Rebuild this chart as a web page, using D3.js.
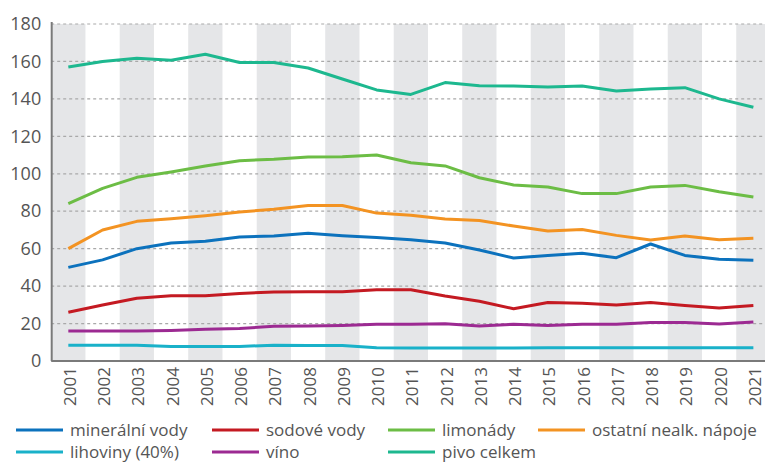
<!DOCTYPE html>
<html><head><meta charset="utf-8">
<script src="https://cdn.jsdelivr.net/npm/d3@7"></script>
<style>body{margin:0;background:#fff}svg{display:block}text{font-family:"Open Sans",sans-serif;fill:#555}</style>
</head><body><svg id="c" width="765" height="463"></svg>
<script>
const years = ["2001","2002","2003","2004","2005","2006","2007","2008","2009","2010","2011","2012","2013","2014","2015","2016","2017","2018","2019","2020","2021"];
const mineralniVody = [50,54,60,63,64,66.2,66.8,68.2,66.9,65.9,64.8,63,59.3,55,56.4,57.5,55.2,62.5,56.4,54.3,53.8];
const sodoveVody = [26,29.9,33.5,34.9,34.9,36.1,36.9,37,37,38.1,38.1,34.7,31.9,27.9,31.2,30.8,29.9,31.3,29.6,28.3,29.6];
const limonady = [84,92.2,98.1,101,104.2,107,107.7,109,109.1,110,105.9,104.2,97.9,94,92.9,89.4,89.4,92.9,93.8,90.4,87.6];
const ostatni = [60,70,74.6,76,77.6,79.6,81,83.1,83.1,79,77.8,75.8,75,72.1,69.4,70.2,67.1,64.6,66.8,64.8,65.5];
const lihoviny = [8.4,8.4,8.4,7.7,7.7,7.8,8.4,8.3,8.3,7.1,7,7,6.9,7,7.1,7.1,7.1,7.1,7.1,7.1,7.1];
const vino = [16,16,16,16.3,16.9,17.4,18.5,18.7,19,19.6,19.6,19.9,18.7,19.6,19,19.6,19.6,20.5,20.5,19.8,20.8];
const pivo = [157,160,161.7,160.6,163.8,159.4,159.4,156.5,150.6,144.8,142.4,148.7,147,146.9,146.4,146.9,144.2,145.3,146,140,135.5];
const yTicks = [0,20,40,60,80,100,120,140,160,180];
const seriesNames = ["minerální vody","sodové vody","limonády","ostatní nealk. nápoje","lihoviny (40%)","víno","pivo celkem"];
const seriesColors = ["#0c72bd","#c41a22","#6cbd45","#f39322","#19b1c9","#9c2a92","#1db88f"];
const seriesData = [mineralniVody,sodoveVody,limonady,ostatni,lihoviny,vino,pivo];

const svg = d3.select("#c");
const L = 51.2, R = 770.5, T = 24, B = 361;
const x = d3.scaleBand().domain(years).range([L,R]).padding(0);
const y = d3.scaleLinear().domain([0,180]).range([B,T]);

// bands
svg.append("g").selectAll("rect").data(years.filter((d,i)=>i%2===0)).join("rect")
  .attr("x",d=>x(d)).attr("y",T).attr("width",x.bandwidth()).attr("height",B-T).attr("fill","#e5e6e8");

// grid
svg.append("g").selectAll("line").data(yTicks.filter(d=>d>0)).join("line")
  .attr("x1",L).attr("x2",765).attr("y1",d=>y(d)).attr("y2",d=>y(d))
  .attr("stroke","#a9a9a9").attr("stroke-width",1.2).attr("stroke-dasharray","3,3");

// y axis labels
const ya = svg.append("g").attr("transform",`translate(${L},0)`).call(d3.axisLeft(y).tickValues(yTicks).tickSize(0).tickPadding(10));
ya.select(".domain").remove();
ya.selectAll("text").attr("font-size",18).attr("fill","#555").style("font-family",'"Open Sans",sans-serif');

// x axis labels
const xa = svg.append("g").attr("transform",`translate(0,${B})`).call(d3.axisBottom(x).tickSize(0));
xa.select(".domain").remove();
xa.selectAll("text").attr("font-size",17).attr("fill","#555").style("font-family",'"Open Sans",sans-serif')
  .attr("text-anchor","end").attr("transform","rotate(-90)").attr("x",-6).attr("y",1).attr("dy","0.38em");

// axis lines
svg.append("line").attr("x1",L+0.5).attr("x2",L+0.5).attr("y1",T-2).attr("y2",B).attr("stroke","#7a7a7a").attr("stroke-width",2);
svg.append("line").attr("x1",L).attr("x2",765).attr("y1",B).attr("y2",B).attr("stroke","#7a7a7a").attr("stroke-width",2);

// lines
const line = d3.line().x((d,i)=>x(years[i])+x.bandwidth()/2).y(d=>y(d));
seriesData.forEach((s,k)=>{
  svg.append("path").datum(s).attr("d",line).attr("fill","none")
    .attr("stroke",seriesColors[k]).attr("stroke-width",3).attr("stroke-linejoin","round");
});

// legend
const legX = [16,212,388,538];
const legY = [430,452];
seriesNames.forEach((n,k)=>{
  const r = Math.floor(k/4), c = k%4;
  const g = svg.append("g").attr("transform",`translate(${legX[c]},${legY[r]})`);
  g.append("line").attr("x1",0).attr("x2",47).attr("stroke",seriesColors[k]).attr("stroke-width",3);
  g.append("text").attr("x",54).attr("dy","0.33em").attr("font-size",17).text(n);
});
</script></body></html>
